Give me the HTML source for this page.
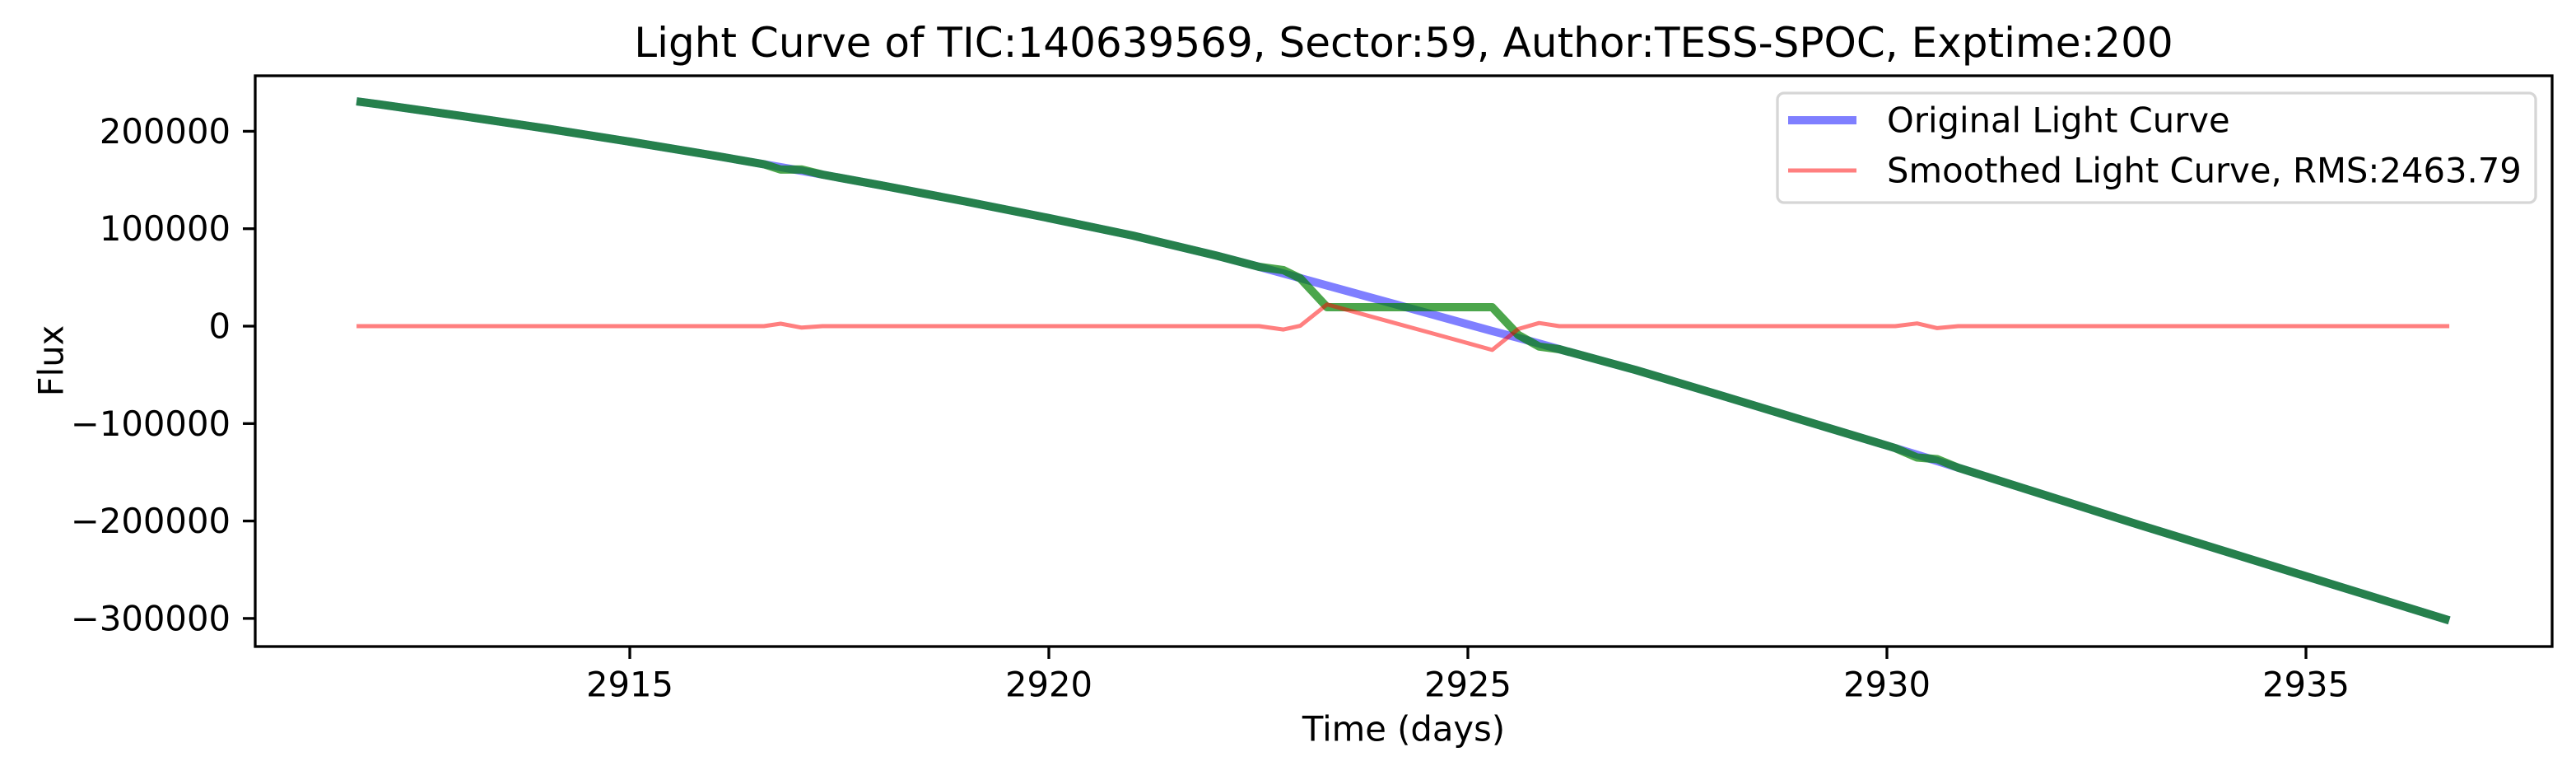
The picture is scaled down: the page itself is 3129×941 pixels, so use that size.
<!DOCTYPE html>
<html><head><meta charset="utf-8"><style>
html,body{margin:0;padding:0;background:#fff;}
svg{display:block;font-family:"DejaVu Sans","Liberation Sans",sans-serif;}
</style></head><body>
<svg id="chart" width="3129" height="941" viewBox="0 0 3129 941" xmlns="http://www.w3.org/2000/svg">
<rect width="3129" height="941" fill="#fff"/>
<text x="1705" y="52" font-size="50" text-anchor="middle" dominant-baseline="central">Light Curve of TIC:140639569, Sector:59, Author:TESS-SPOC, Exptime:200</text>
<g id="ticks"></g>
<g id="series"></g>
<rect x="310" y="92" width="2790" height="693" fill="none" stroke="#000" stroke-width="3.3"/>
<text x="1705" y="885" font-size="41.7" text-anchor="middle" dominant-baseline="central">Time (days)</text>
<text x="62" y="438" font-size="41.7" text-anchor="middle" dominant-baseline="central" transform="rotate(-90 62 438)">Flux</text>
<g>
<rect x="2159" y="113" width="921" height="133" rx="8" fill="#fff" fill-opacity="0.8" stroke="#d6d6d6" stroke-width="3.3"/>
<line x1="2172" y1="146" x2="2255" y2="146" stroke="#0000ff" stroke-opacity="0.5" stroke-width="10"/>
<text x="2292" y="146" font-size="41.7" dominant-baseline="central">Original Light Curve</text>
<line x1="2172" y1="207" x2="2255" y2="207" stroke="#ff0000" stroke-opacity="0.5" stroke-width="5"/>
<text x="2292" y="207" font-size="41.7" dominant-baseline="central">Smoothed Light Curve, RMS:2463.79</text>
</g>
</svg>
<script>
const times = [2911.74,2912,2913,2914,2915,2916,2916.6,2916.8,2917.05,2917.3,2918,2919,2920,2921,2922,2922.51,2922.8,2923.0,2923.32,2924,2924.5,2925,2925.29,2925.6,2925.85,2926.09,2927,2928,2929,2930,2930.1,2930.36,2930.6,2930.85,2931,2932,2933,2934,2935,2936,2936.71];
const originalFlux = [230700,227690,215630,202850,189350,175110,166220,163200,159390,155520,144470,128050,110900,93000,72400,60900,54000,49300,41700,25600,13800,1900,-5000,-12000,-17800,-23700,-45000,-70600,-96600,-122600,-125200,-132000,-138500,-145300,-149400,-176500,-203700,-230200,-256700,-283200,-302000];
const correctedFlux = [230700,227690,215630,202850,189350,175110,166220,160700,160900,155520,144470,128050,110900,93000,72400,60900,57500,49000,19400,19400,19400,19400,19400,-9000,-21000,-23700,-45000,-70600,-96600,-122600,-125200,-134800,-136500,-145300,-149400,-176500,-203700,-230200,-256700,-283200,-302000];
const smoothedFlux = [0,0,0,0,0,0,0,2500,-1500,0,0,0,0,0,0,0,-3500,300,22300,6200,-5600,-17500,-24400,-3000,3200,0,0,0,0,0,0,2800,-2000,0,0,0,0,0,0,0,0];
const xTicks = [2915,2920,2925,2930,2935];
const yTicks = [200000,100000,0,-100000,-200000,-300000];

const NS = "http://www.w3.org/2000/svg";
function xScale(t){ return 765 + (t - 2915) * 101.8; }
function yScale(v){ return 396 - v * 0.001183; }

const tg = document.getElementById('ticks');
xTicks.forEach(t => {
  const x = xScale(t);
  const l = document.createElementNS(NS,'line');
  l.setAttribute('x1',x); l.setAttribute('x2',x); l.setAttribute('y1',785); l.setAttribute('y2',800);
  l.setAttribute('stroke','#000'); l.setAttribute('stroke-width','3.3');
  
  
  tg.appendChild(l);
  const tx = document.createElementNS(NS,'text');
  tx.setAttribute('x',x); tx.setAttribute('y',831); tx.setAttribute('font-size','41.7');
  tx.setAttribute('text-anchor','middle'); tx.setAttribute('dominant-baseline','central');
  tx.textContent = t;
  
  
  tg.appendChild(tx);
});
yTicks.forEach(v => {
  const y = yScale(v);
  const l = document.createElementNS(NS,'line');
  l.setAttribute('x1',295); l.setAttribute('x2',310); l.setAttribute('y1',y); l.setAttribute('y2',y);
  l.setAttribute('stroke','#000'); l.setAttribute('stroke-width','3.3');
  
  
  tg.appendChild(l);
  const tx = document.createElementNS(NS,'text');
  tx.setAttribute('x',280); tx.setAttribute('y',y); tx.setAttribute('font-size','41.7');
  tx.setAttribute('text-anchor','end'); tx.setAttribute('dominant-baseline','central');
  tx.textContent = v < 0 ? '\u2212' + Math.abs(v) : String(v);
  
  
  tg.appendChild(tx);
});

const sg = document.getElementById('series');
function drawLine(vals, color, opacity, width, name){
  const p = document.createElementNS(NS,'polyline');
  p.setAttribute('points', times.map((t,i)=> xScale(t).toFixed(1)+','+yScale(vals[i]).toFixed(1)).join(' '));
  p.setAttribute('fill','none'); p.setAttribute('stroke',color);
  p.setAttribute('stroke-opacity',opacity); p.setAttribute('stroke-width',width);
  p.setAttribute('stroke-linejoin','round'); p.setAttribute('stroke-linecap','butt');
  
  
  sg.appendChild(p);
}
drawLine(originalFlux,'#0000ff',0.5,10,'original-light-curve');
drawLine(correctedFlux,'#008000',0.7,10,'corrected-light-curve');
drawLine(smoothedFlux,'#ff0000',0.5,5,'smoothed-light-curve');
</script>
</body></html>
